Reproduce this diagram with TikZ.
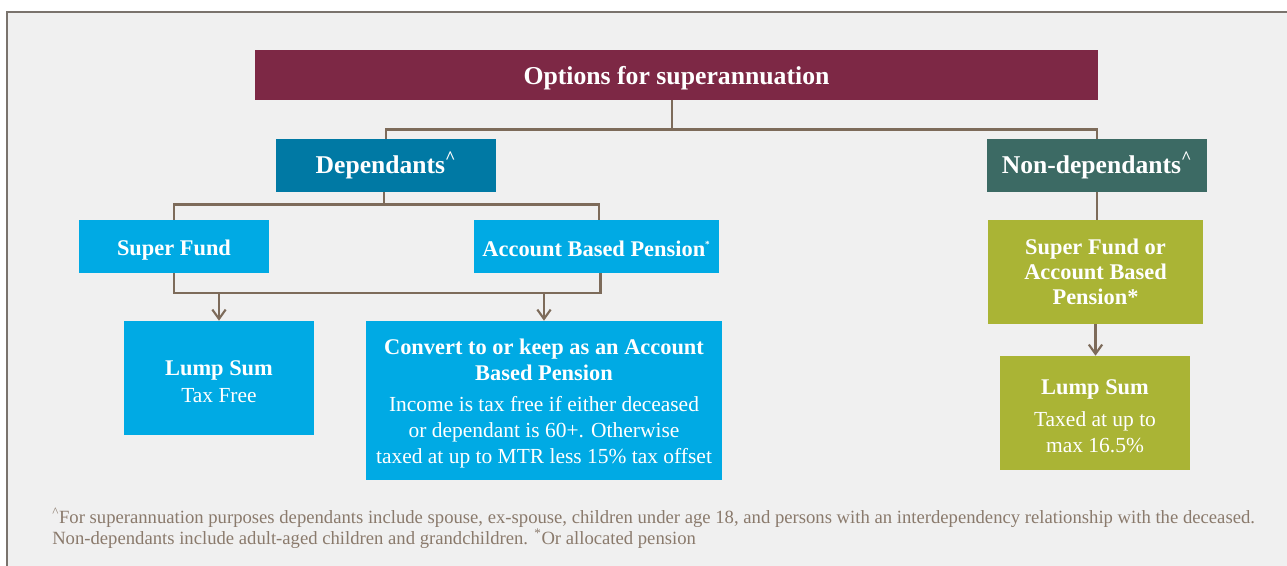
\documentclass[tikz,border=0pt]{standalone}
\usepackage{fontspec}
\setmainfont{Liberation Serif}
\usetikzlibrary{arrows.meta}
\definecolor{bgc}{HTML}{F0F0F0}
\definecolor{framec}{HTML}{7A736D}
\definecolor{titlec}{HTML}{7D2845}
\definecolor{depc}{HTML}{0079A4}
\definecolor{ndepc}{HTML}{3C6A64}
\definecolor{lbluec}{HTML}{00AAE4}
\definecolor{olivec}{HTML}{AAB435}
\definecolor{linec}{HTML}{7D6B5A}
\definecolor{notec}{HTML}{8A7A6C}
\tikzset{
  sz/.style 2 args={minimum width=#1*0.75pt, minimum height=#2*0.75pt},
  boxbase/.style={rectangle, inner sep=0pt},
  titlebox/.style={boxbase, fill=titlec},
  depbox/.style={boxbase, fill=depc},
  ndepbox/.style={boxbase, fill=ndepc},
  bluebox/.style={boxbase, fill=lbluec},
  olivebox/.style={boxbase, fill=olivec},
  txt/.style={inner sep=0pt, text=white, align=center, font=\fontsize{16.1}{19.3}\selectfont},
  titlefont/.style={font=\fontsize{19.3}{22}\selectfont\bfseries},
  depfont/.style={font=\fontsize{19.2}{22}\selectfont\bfseries},
  headfont/.style={font=\fontsize{16.8}{19}\selectfont\bfseries},
  conn/.style={draw=linec, line width=2pt},
  arr/.style={conn, -{Straight Barb[length=7pt, width=10pt, line width=1.6pt]}},
  note/.style={text=notec, font=\fontsize{14}{14.3}\selectfont, align=left, inner sep=0pt, anchor=north west}
}
\newcommand{\caretsup}{\textsuperscript{\textasciicircum}}
\newcommand{\hd}[1]{\textbf{\fontsize{16.8}{19}\selectfont #1}}
\begin{document}
\begin{tikzpicture}[x=0.75pt, y=-0.75pt]
\useasboundingbox (0,0) rectangle (1287,566);
\fill[white] (0,0) rectangle (1287,566);
\fill[bgc] (7,12) rectangle (1295,575);
\draw[framec, line width=1.2pt] (7,575) -- (7,12) -- (1295,12);

% boxes
\node[titlebox, sz={843}{50}] (title) at (676.5,75) {};
\node[depbox, sz={220}{53}] (dep) at (386,165.5) {};
\node[ndepbox, sz={220}{53}] (ndep) at (1097,165.5) {};
\node[bluebox, sz={190}{53}] (sf) at (174,246.5) {};
\node[bluebox, sz={245}{53}] (abp) at (596.5,246.5) {};
\node[bluebox, sz={190}{114}] (lump1) at (219,378) {};
\node[bluebox, sz={356}{159}] (conv) at (544,400.5) {};
\node[olivebox, sz={215}{104}] (sfo) at (1095.5,272) {};
\node[olivebox, sz={190}{114}] (lump2) at (1095,413) {};

% texts
\node[txt, titlefont] (title-t) at ([yshift=-3*0.75pt]title.center) {Options for superannuation};
\node[txt, depfont] (dep-t) at (dep.center) {Dependants\caretsup};
\node[txt, depfont] (ndep-t) at (ndep.center) {Non-dependants\caretsup};
\node[txt, headfont] (sf-t) at ([yshift=-4*0.75pt]sf.center) {Super Fund};
\node[txt, headfont] (abp-t) at ([yshift=-2*0.75pt]abp.center) {Account Based Pension\textsuperscript{\scriptsize *}};
\node[txt] (lump1-t) at ([yshift=-3.5*0.75pt]lump1.center) {\hd{Lump Sum}\\[1pt]Tax Free};
\node[txt] (conv-t) at ([yshift=-3*0.75pt]conv.center) {\hd{Convert to or keep as an Account}\\\hd{Based Pension}\\[4pt]Income is tax free if either deceased\\or dependant is 60+. Otherwise\\taxed at up to MTR less 15\% tax offset};
\node[txt, headfont] (sfo-t) at (sfo.center) {Super Fund or\\Account Based\\Pension*};
\node[txt] (lump2-t) at ([yshift=-3*0.75pt]lump2.center) {\hd{Lump Sum}\\[5pt]Taxed at up to\\max 16.5\%};

% connectors
\coordinate (bar) at (0,293);
\coordinate (abps) at ([xshift=4*0.75pt]abp.south);
\draw[conn] ([xshift=-4.5*0.75pt]title.south) -- ++(0,29) coordinate (tj);
\draw[conn] (tj) -| (dep.north);
\draw[conn] (tj) -| (ndep.north);
\draw[conn] ([xshift=-2*0.75pt]dep.south) -- ++(0,12) coordinate (dj);
\draw[conn] (dj) -| (sf.north);
\draw[conn] (dj) -| ([xshift=2.5*0.75pt]abp.north);
\draw[conn] (sf.south) |- (bar -| abps) -- (abps);
\draw[arr] (bar -| lump1.north) -- (lump1.north);
\draw[arr] (bar -| conv.north) -- (conv.north);
\draw[conn] (ndep.south) -- (ndep.south |- sfo.north);
\draw[arr] (sfo.south) -- (sfo.south |- lump2.north);

\node[note] (fn) at (52,508) {\caretsup For superannuation purposes dependants include spouse, ex-spouse, children under age 18, and persons with an interdependency relationship with the deceased.\\Non-dependants include adult-aged children and grandchildren. \textsuperscript{*}Or allocated pension};
\end{tikzpicture}
\end{document}
